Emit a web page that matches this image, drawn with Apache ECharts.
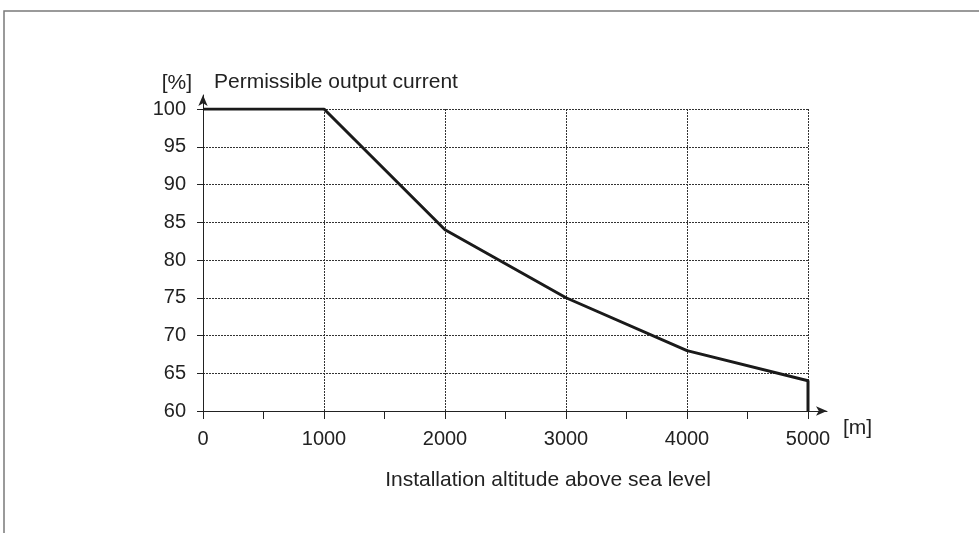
<!DOCTYPE html>
<html>
<head>
<meta charset="utf-8">
<title>Permissible output current vs altitude</title>
<script src="https://cdn.jsdelivr.net/npm/echarts@6/dist/echarts.min.js"></script>
<style>
  html, body { margin: 0; padding: 0; background: #fff; }
  #chart { width: 979px; height: 533px; }
</style>
</head>
<body>
<div id="chart"></div>
<script>
// altitude [m] and derating [%]; last point closes the curve down to 60
const altitudes = [0, 1000, 2000, 3000, 4000, 5000, 5000]
const currentPct = [100, 100, 84, 75, 68, 64, 60]

const xTicks = [0, 1000, 2000, 3000, 4000, 5000]
const yTicks = [60, 65, 70, 75, 80, 85, 90, 95, 100]

const textColor = '#222'
const fontFamily = '"Liberation Sans", Arial, sans-serif'

const chart = echarts.init(document.getElementById('chart'))

const gridLine = { lineStyle: { color: '#333', width: 1, type: [2, 1] } }

const option = {
  animation: false,
  textStyle: { fontFamily: fontFamily },
  grid: [
    { left: 203, right: 171, top: 109, bottom: 122 },
    // only carries the arrowed axis lines, which run past the plot area
    { left: 203, right: 152, top: 95, bottom: 122 }
  ],
  xAxis: [
    {
      type: 'value',
      gridIndex: 0,
      min: xTicks[0],
      max: xTicks[xTicks.length - 1],
      interval: 1000,
      axisLine: { show: false },
      axisTick: { show: true, length: 8, lineStyle: { color: textColor } },
      minorTick: { show: true, splitNumber: 2, length: 8, lineStyle: { color: textColor } },
      axisLabel: { color: textColor, fontSize: 20, margin: 18, formatter: v => String(v) },
      splitLine: gridLine
    },
    {
      type: 'value',
      gridIndex: 1,
      min: 0,
      max: 1,
      axisLine: {
        show: true,
        onZero: false,
        symbol: ['none', 'arrow'],
        symbolSize: [7, 11],
        lineStyle: { color: textColor, width: 1 }
      },
      axisTick: { show: false },
      axisLabel: { show: false },
      splitLine: { show: false }
    }
  ],
  yAxis: [
    {
      type: 'value',
      gridIndex: 0,
      min: yTicks[0],
      max: yTicks[yTicks.length - 1],
      interval: 5,
      axisLine: { show: false },
      axisTick: { show: true, length: 6, lineStyle: { color: textColor } },
      axisLabel: { color: textColor, fontSize: 20, margin: 17 },
      splitLine: gridLine
    },
    {
      type: 'value',
      gridIndex: 1,
      min: 0,
      max: 1,
      axisLine: {
        show: true,
        onZero: false,
        symbol: ['none', 'arrow'],
        symbolSize: [7, 11],
        lineStyle: { color: textColor, width: 1 }
      },
      axisTick: { show: false },
      axisLabel: { show: false },
      splitLine: { show: false }
    }
  ],
  series: [
    {
      type: 'line',
      xAxisIndex: 0,
      yAxisIndex: 0,
      data: altitudes.map((a, i) => [a, currentPct[i]]),
      symbol: 'none',
      lineStyle: { color: '#1a1a1a', width: 3 },
      z: 5
    }
  ],
  graphic: [
    {
      type: 'rect',
      shape: { x: 4, y: 11, width: 1100, height: 700 },
      style: { fill: 'none', stroke: '#7a7a7a', lineWidth: 1.5 },
      silent: true
    },
    {
      type: 'text',
      x: 192, y: 83,
      style: { text: '[%]', fill: textColor, font: '21px ' + fontFamily, textAlign: 'right', textVerticalAlign: 'middle' }
    },
    {
      type: 'text',
      x: 214, y: 82,
      style: { text: 'Permissible output current', fill: textColor, font: '21px ' + fontFamily, textAlign: 'left', textVerticalAlign: 'middle' }
    },
    {
      type: 'text',
      x: 843, y: 428,
      style: { text: '[m]', fill: textColor, font: '21px ' + fontFamily, textAlign: 'left', textVerticalAlign: 'middle' }
    },
    {
      type: 'text',
      x: 548, y: 480,
      style: { text: 'Installation altitude above sea level', fill: textColor, font: '21px ' + fontFamily, textAlign: 'center', textVerticalAlign: 'middle' }
    }
  ]
}

chart.setOption(option)
window.addEventListener('resize', () => chart.resize())
</script>
</body>
</html>
